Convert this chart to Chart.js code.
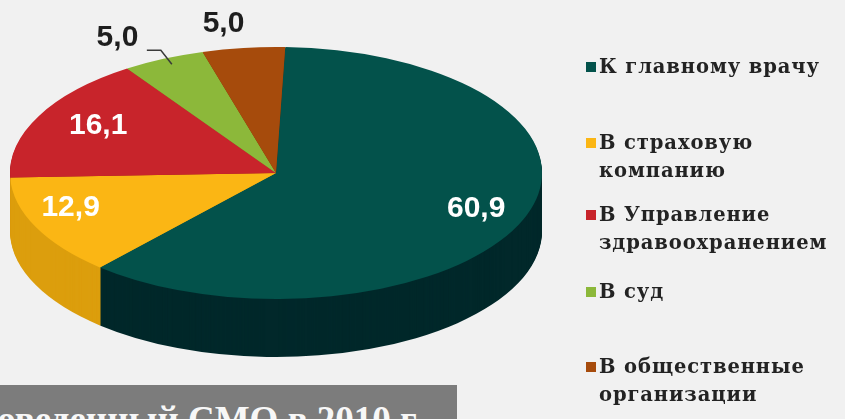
<!DOCTYPE html>
<html lang="ru">
<head>
<meta charset="utf-8">
<script src="https://cdn.jsdelivr.net/npm/chart.js@4.4.1/dist/chart.umd.min.js"></script>
<style>
  html, body { margin: 0; padding: 0; background: #f1f1f1; }
  #marco { position: relative; width: 845px; height: 419px; overflow: hidden; background: #f1f1f1; }
  #grafico { position: absolute; left: 0; top: 0; }
  .item { position: absolute; left: 586px; padding-left: 13px; font-family: "DejaVu Serif", serif;
          font-weight: bold; font-size: 19.5px; letter-spacing: 0.9px; line-height: 28px; color: #232323; white-space: pre-line; }
  .item i { position: absolute; left: 0; top: 9px; width: 10px; height: 10px; }
  #pie { position: absolute; left: 0; top: 385px; width: 457px; height: 34px; background: #7c7c7c; overflow: hidden; }
  #pie span { position: absolute; right: 35px; top: 16px; white-space: nowrap; color: #f7f7f7;
              font-family: "Liberation Serif", serif; font-weight: bold; font-size: 37px; line-height: 37px; }
</style>
</head>
<body>
<div id="marco">
  <canvas id="grafico" width="845" height="419"></canvas>
  <div id="leyenda"></div>
  <div id="pie"><span>проведенный СМО в 2010 г.</span></div>
</div>
<script>
// Datos
const categorias = ['К главному врачу', 'В страховую\nкомпанию', 'В Управление\nздравоохранением', 'В суд', 'В общественные\nорганизации'];
const valores = [60.9, 12.9, 16.1, 5.0, 5.0];
const coloresCara = ['#03524b', '#fbb614', '#c8242b', '#8cb83a', '#a64b0c'];
const coloresLado = ['#01282a', '#dc9e0d', '#9a1a20', '#6c9127', '#7a3607'];

// Geometría del pastel (elipse de la cara superior y grosor)
const CX = 276, CY = 173, RX = 266, RY = 126, GROSOR = 58, R = 170;

// Ajuste de cada etiqueta: fracción del radio + corrección en píxeles
const colocacion = [
  { f: 0.81, dx: 0, dy: -2, color: '#ffffff' },
  { f: 0.854, dx: 0, dy: -11, color: '#ffffff' },
  { f: 0.75, dx: 0, dy: -4, color: '#ffffff' },
  { f: 1, dx: -46, dy: -21, color: '#1e1e1e', guia: true },
  { f: 1, dx: -20, dy: -24, color: '#1e1e1e' }
];

// Leyenda en HTML
const posLeyenda = [67, 143, 215, 292, 367];
const leyenda = document.getElementById('leyenda');
categorias.forEach((c, i) => {
  const div = document.createElement('div');
  div.className = 'item';
  div.style.top = (posLeyenda[i] - 14) + 'px';
  const cuadro = document.createElement('i');
  cuadro.style.background = coloresCara[i];
  div.appendChild(cuadro);
  div.appendChild(document.createTextNode(c));
  leyenda.appendChild(div);
});

function puntoElipse(a, f) {
  const ang = (a.startAngle + a.endAngle) / 2;
  return { x: CX + Math.cos(ang) * RX * f, y: CY + Math.sin(ang) * RY * f };
}

// Dibuja la pared lateral y aplasta la cara superior en elipse
const pastel3D = {
  id: 'pastel3D',
  beforeDatasetsDraw(chart) {
    const ctx = chart.ctx;
    const arcos = chart.getDatasetMeta(0).data;
    const { x, y, outerRadius } = arcos[0];
    const sx = RX / outerRadius, sy = RY / outerRadius;
    for (let d = GROSOR; d > 0; d--) {
      ctx.save();
      ctx.translate(x, y + d);
      ctx.scale(sx, sy);
      arcos.forEach((a, i) => {
        ctx.beginPath();
        ctx.moveTo(0, 0);
        ctx.arc(0, 0, a.outerRadius, a.startAngle, a.endAngle);
        ctx.closePath();
        ctx.fillStyle = coloresLado[i];
        ctx.fill();
      });
      ctx.restore();
    }
    ctx.save();
    ctx.translate(x, y);
    ctx.scale(sx, sy);
    ctx.translate(-x, -y);
  },
  afterDatasetsDraw(chart) {
    const ctx = chart.ctx;
    ctx.restore();
    const arcos = chart.getDatasetMeta(0).data;
    ctx.save();
    ctx.font = 'bold 30px "Liberation Sans", Arial, sans-serif';
    ctx.textAlign = 'center';
    ctx.textBaseline = 'middle';
    arcos.forEach((a, i) => {
      const c = colocacion[i];
      const p = puntoElipse(a, c.f);
      const tx = p.x + c.dx, ty = p.y + c.dy;
      ctx.fillStyle = c.color;
      ctx.fillText(valores[i].toFixed(1).replace('.', ','), tx, ty);
      if (c.guia) {
        const borde = puntoElipse(a, 0.97);
        ctx.strokeStyle = '#3a3a3a';
        ctx.lineWidth = 1.5;
        ctx.beginPath();
        ctx.moveTo(borde.x + 5, borde.y + 2);
        ctx.lineTo(borde.x - 6, borde.y - 12);
        ctx.lineTo(borde.x - 20, borde.y - 12);
        ctx.stroke();
      }
    });
    ctx.restore();
  }
};

new Chart(document.getElementById('grafico'), {
  type: 'pie',
  data: {
    labels: categorias,
    datasets: [{
      data: valores,
      backgroundColor: coloresCara,
      borderWidth: 0,
      hoverOffset: 0
    }]
  },
  options: {
    responsive: false,
    animation: false,
    rotation: 2,
    layout: { padding: { left: CX - R, right: 845 - CX - R, top: CY - R, bottom: 419 - CY - R } },
    plugins: { legend: { display: false }, tooltip: { enabled: false } }
  },
  plugins: [pastel3D]
});
</script>
</body>
</html>
